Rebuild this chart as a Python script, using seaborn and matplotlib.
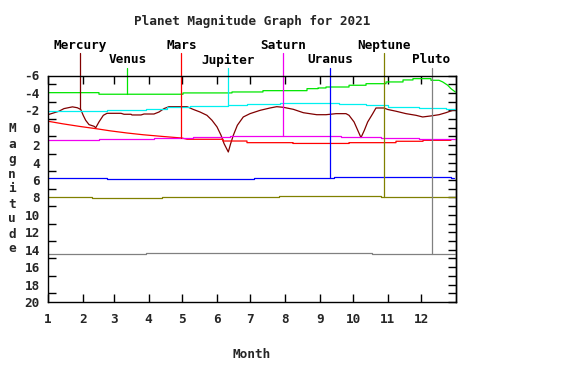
import numpy as np
import pandas as pd
import matplotlib
matplotlib.use("Agg")
import matplotlib.pyplot as plt
import seaborn as sns

# ---------------- data ----------------
title = "Planet Magnitude Graph for 2021"
month_labels = [str(m) for m in range(1, 13)]
month_start_days = [0, 31, 59, 90, 120, 151, 181, 212, 243, 273, 304, 334]
year_days = 365
ytick_values = list(range(-6, 21, 2))

planets = ["Mercury", "Venus", "Mars", "Jupiter", "Saturn", "Uranus", "Neptune", "Pluto"]
planet_colors = ["#800000", "#00e600", "#ff0000", "#00f0f0", "#f000f0", "#0000ff", "#808000", "#808080"]
marker_days = [28.6, 71, 119.4, 161.3, 210.5, 252.7, 300.8, 343.1]
label_row = [1, 2, 1, 2, 1, 2, 1, 2]

# Mercury: continuous curve
mercury_days = [0, 9.8, 14.3, 21.9, 26.2, 29.3, 31.6, 33.7, 36.7, 41.2,
                42.7, 45.6, 49.5, 52.8, 65.3, 68, 74.3, 75.1, 83.2, 85.9,
                94.8, 99.3, 103.8, 108.2, 124.4, 129.7, 136, 142.2, 146.7, 151.2,
                154.8, 157.5, 161.3, 163.4, 165.8, 169.4, 174.7, 180.7, 189.7, 198.6,
                204.6, 210.5, 219.4, 228.4, 240.4, 248.7, 257.7, 266.6, 269.3, 273.8,
                277.1, 280, 283, 286, 290.5, 293.4, 300.6, 303.9, 311.3, 320.3,
                329.2, 335.2, 342.6, 349.8, 356, 362, 365]
mercury_mag = [-1.5, -1.9, -2.2, -2.4, -2.3, -2.1, -1.4, -0.86, -0.36, -0.17,
               0.0, -0.67, -1.43, -1.66, -1.66, -1.55, -1.55, -1.47, -1.47, -1.58,
               -1.58, -1.81, -2.2, -2.42, -2.42, -2.12, -1.81, -1.43, -0.86, -0.1,
               0.86, 1.82, 2.78, 1.82, 0.86, -0.29, -1.24, -1.62, -2.0, -2.27,
               -2.42, -2.35, -2.12, -1.73, -1.5, -1.5, -1.62, -1.62, -1.43, -0.67,
               0.29, 1.13, 0.29, -0.67, -1.62, -2.27, -2.27, -2.1, -1.9, -1.62,
               -1.43, -1.24, -1.36, -1.5, -1.73, -2.0, -2.05]

# Venus: stepped values, then a sloped tail
venus_step_days = [0, 45.6, 120.8, 164.6, 192.3, 231.7, 241.5, 248.7, 269.3, 284.5, 302.4, 317.6, 326.5, 342.6]
venus_step_mag = [-4.03, -3.85, -4.0, -4.11, -4.26, -4.49, -4.57, -4.68, -4.88, -5.06, -5.26, -5.49, -5.64, -5.45]
venus_tail_days = [349.8, 353.1, 357.6, 360.5, 364.4]
venus_tail_mag = [-5.45, -5.26, -4.88, -4.49, -4.11]

# Mars: sloped start, then steps
mars_slope_days = [0, 13.4, 28.6, 43.8, 55.5, 70.7, 85, 102.9, 119.9]
mars_slope_mag = [-0.75, -0.45, -0.15, 0.12, 0.35, 0.6, 0.8, 1.0, 1.18]
mars_step_days = [124.4, 156.6, 178, 219.2, 269.3, 311.3, 335.5]
mars_step_mag = [1.32, 1.52, 1.71, 1.8, 1.71, 1.55, 1.44]
mars_end = 360.5

jupiter_step_days = [0, 52.8, 87.7, 106.5, 127, 161, 178, 207.5, 260.3, 284.5, 304.2, 331.9, 356]
jupiter_step_mag = [-1.9, -2.0, -2.16, -2.35, -2.46, -2.65, -2.77, -2.85, -2.7, -2.58, -2.42, -2.27, -2.12]
jupiter_end = 365

saturn_step_days = [0, 45.6, 94.8, 129.7, 162.8, 262.1, 297.9, 331.9]
saturn_step_mag = [1.42, 1.3, 1.21, 1.1, 0.98, 1.1, 1.21, 1.3]
saturn_end = 365

uranus_step_days = [0, 52.8, 184.3, 255.9, 360.5]
uranus_step_mag = [5.8, 5.91, 5.8, 5.66, 5.8]
uranus_end = 363.6

neptune_step_days = [0, 39.4, 102, 206.7, 297.9]
neptune_step_mag = [7.98, 8.09, 7.98, 7.84, 7.98]
neptune_end = 365

pluto_step_days = [0, 87.7, 289.9]
pluto_step_mag = [14.49, 14.37, 14.49]
pluto_end = 364


def expand_steps(days, mags, end):
    xs, ys = [], []
    for i, (d, m) in enumerate(zip(days, mags)):
        nxt = days[i + 1] if i + 1 < len(days) else end
        xs += [d, nxt]
        ys += [m, m]
    return xs, ys


series = {}
series["Mercury"] = (mercury_days, mercury_mag)
vx, vy = expand_steps(venus_step_days, venus_step_mag, venus_tail_days[0])
series["Venus"] = (vx + venus_tail_days, vy + venus_tail_mag)
mx, my = expand_steps(mars_step_days, mars_step_mag, mars_end)
series["Mars"] = (mars_slope_days + mx, mars_slope_mag + my)
series["Jupiter"] = expand_steps(jupiter_step_days, jupiter_step_mag, jupiter_end)
series["Saturn"] = expand_steps(saturn_step_days, saturn_step_mag, saturn_end)
series["Uranus"] = expand_steps(uranus_step_days, uranus_step_mag, uranus_end)
series["Neptune"] = expand_steps(neptune_step_days, neptune_step_mag, neptune_end)
series["Pluto"] = expand_steps(pluto_step_days, pluto_step_mag, pluto_end)

rows = []
for p in planets:
    xs, ys = series[p]
    for i, (x, y) in enumerate(zip(xs, ys)):
        rows.append({"planet": p, "day": x, "mag": y, "order": i})
df = pd.DataFrame(rows)

# ---------------- plot ----------------
sns.set_theme(style="white")
FONT = ["DejaVu Sans Mono", "DejaVu Sans"]
plt.rcParams["font.family"] = FONT
plt.rcParams["font.weight"] = "bold"
FS = 9.2

fig = plt.figure(figsize=(5.68, 3.78), dpi=100)
fig.patch.set_facecolor("white")
ax = fig.add_axes([48 / 568, 1 - 302 / 378, 408 / 568, 226.5 / 378])
ax.set_facecolor("white")

palette = dict(zip(planets, planet_colors))
sns.lineplot(data=df, x="day", y="mag", hue="planet", palette=palette,
             hue_order=planets, units="planet", estimator=None, sort=False,
             legend=False, linewidth=0.9, ax=ax)

ax.set_xlim(0, year_days)
ax.set_ylim(20, -6)

# marker lines and planet labels
row_label_y = {1: -9.39, 2: -7.78}
row_top_y = {1: -8.59, 2: -6.87}
for p, c, d, r in zip(planets, planet_colors, marker_days, label_row):
    xs, ys = series[p]
    bottom = float(np.interp(d, xs, ys))
    ax.plot([d, d], [row_top_y[r], bottom], color=c, lw=0.9, clip_on=False)
    ax.text(d, row_label_y[r], p, ha="center", va="center", fontsize=FS,
            fontweight="bold", family=FONT, color="black", clip_on=False)

# axes styling
for s in ax.spines.values():
    s.set_visible(True)
    s.set_color("black")
    s.set_linewidth(1.0)

ax.set_xticks(month_start_days)
ax.set_xticklabels(month_labels)
ax.tick_params(axis="x", which="major", direction="in", top=True, bottom=True,
               length=5.5, width=1.0, color="black", pad=8, labelsize=FS)

ax.set_yticks(ytick_values)
ax.set_yticklabels([str(v) for v in ytick_values])
ax.set_yticks(list(range(-5, 20, 2)), minor=True)
ax.tick_params(axis="y", which="major", left=True, right=False, length=0,
               pad=6, labelsize=FS)
ax.tick_params(axis="y", which="minor", left=True, right=False, direction="in",
               length=5.5, width=1.0, color="black")
for lab in ax.get_xticklabels() + ax.get_yticklabels():
    lab.set_fontweight("bold")
    lab.set_family(FONT)

sec = ax.secondary_yaxis("right")
sec.set_yticks(list(range(-6, 21)))
sec.tick_params(direction="in", length=6, width=1.0, color="black", labelright=False)
sec.spines["right"].set_linewidth(1.0)
sec.spines["right"].set_color("black")

ax.set_xlabel("Month", fontsize=FS, fontweight="bold", family=FONT)
ax.xaxis.label.set_va("center")
ax.xaxis.set_label_coords(0.5, -(355 - 302) / 226.5)

ax.set_ylabel("\n".join("Magnitude"), fontsize=FS, fontweight="bold",
              family=FONT, rotation=0, linespacing=1.2)
ax.yaxis.label.set_va("center")
ax.yaxis.label.set_ha("center")
ax.yaxis.set_label_coords(-(48 - 12) / 408, (302 - 189) / 226.5)

fig.text(252 / 568, 1 - 21 / 378, title, ha="center", va="center",
         fontsize=FS, fontweight="bold", family=FONT)

fig.savefig("out.png", dpi=100, facecolor="white")
